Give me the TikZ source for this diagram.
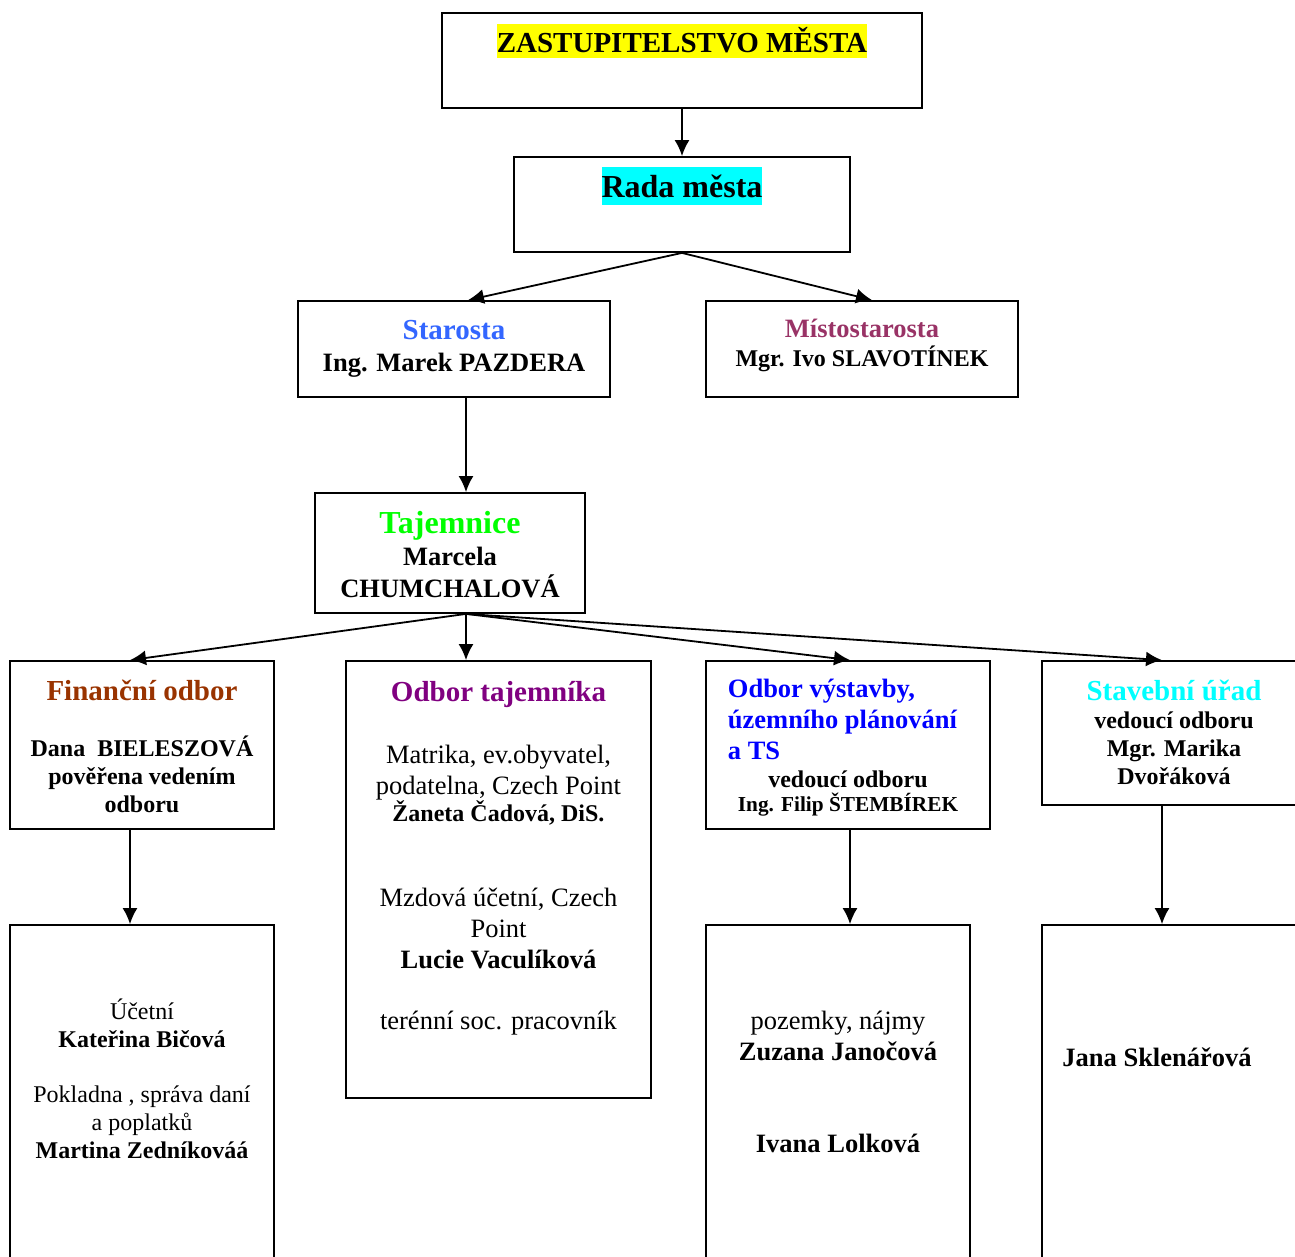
\documentclass[tikz,border=0pt]{standalone}
\usepackage{fontspec}
\setmainfont{Liberation Serif}
\usepackage{xcolor}
\usetikzlibrary{arrows.meta}
\definecolor{hlYellow}{HTML}{FFFF00}
\definecolor{hlCyan}{HTML}{00FFFF}
\definecolor{cStarosta}{HTML}{3366FF}
\definecolor{cMisto}{HTML}{993366}
\definecolor{cTaj}{HTML}{00FF00}
\definecolor{cFin}{HTML}{993300}
\definecolor{cOT}{HTML}{800080}
\definecolor{cOV}{HTML}{0000FF}
\definecolor{cSU}{HTML}{00FFFF}
\newcommand{\fBig}{\fontsize{32}{36}\selectfont\bfseries}
\newcommand{\fHead}{\fontsize{29}{33}\selectfont\bfseries}
\newcommand{\fMain}{\fontsize{26.5}{31}\selectfont}
\newcommand{\fSmall}{\fontsize{24}{28}\selectfont}
\newcommand{\fTiny}{\fontsize{21.3}{24}\selectfont}
\begin{document}
\begin{tikzpicture}[x=1pt,y=-1pt,line width=1.8pt,
  box/.style={draw,rectangle,inner sep=0pt},
  txt/.style={align=center,inner sep=0pt,anchor=base},
  hl/.style={inner sep=0pt,anchor=base},
  >={Latex[length=16pt,width=15pt]}]
  \useasboundingbox (0,0) rectangle (1295,1256);
  \clip (0,0) rectangle (1295,1256);

  % boxes
  \draw ( 682,  60.5) node[box,minimum width=480,minimum height=95](Z)   {};
  \draw ( 682, 204.5) node[box,minimum width=336,minimum height=95](Rada){};

  \draw ( 454, 349) node[box,minimum width=312,minimum height=96](Sta)  {};
  \draw ( 862, 349) node[box,minimum width=312,minimum height=96](Mist) {};

  \draw ( 450, 553) node[box,minimum width=270,minimum height=120](Taj) {};

  \draw ( 142,   745) node[box,minimum width=264,minimum height=168](Fin) {};
  \draw ( 498.5, 879.5) node[box,minimum width=305,minimum height=437](OT) {};
  \draw ( 848,   745) node[box,minimum width=284,minimum height=168](OV) {};
  \draw (1174,   733) node[box,minimum width=264,minimum height=144](SU) {};

  \draw ( 142, 1112.5) node[box,minimum width=264,minimum height=375](FinL) {};
  \draw ( 838, 1112.5) node[box,minimum width=264,minimum height=375](OVL) {};
  \draw (1174, 1112.5) node[box,minimum width=264,minimum height=375](SUL) {};

  % texts (base = last line)
  \draw ( 682, 52) node[hl,fill=hlYellow,text height=28pt,text depth=6pt](tZ)
    {\fHead ZASTUPITELSTVO MĚSTA};
  \draw ( 682,197) node[hl,fill=hlCyan,text height=30pt,text depth=8pt](tRada)
    {\fBig Rada města};

  \draw ( 454,371) node[txt,font=\fontsize{26.5}{32}\selectfont](tSta)
    {{\fHead\color{cStarosta}Starosta}\\{\fMain\bfseries Ing. Marek PAZDERA}};
  \draw ( 862,366) node[txt,font=\fontsize{24}{29}\selectfont](tMist)
    {{\fMain\bfseries\color{cMisto}Místostarosta}\\{\fSmall\bfseries Mgr. Ivo SLAVOTÍNEK}};

  \draw ( 450,597) node[txt,font=\fontsize{26.5}{32}\selectfont](tTaj)
    {{\fBig\color{cTaj}Tajemnice}\\{\fMain\bfseries Marcela}\\{\fMain\bfseries CHUMCHALOVÁ}};

  \draw ( 142,812) node[txt,font=\fontsize{24}{28}\selectfont](tFin)
    {{\fHead\color{cFin}Finanční odbor}\\[28pt]{\fSmall\bfseries Dana~~BIELESZOVÁ}\\
     {\fSmall\bfseries pověřena vedením}\\{\fSmall\bfseries odboru}};

  \draw ( 498.5,1029) node[txt,font=\fontsize{26.5}{31}\selectfont](tOT)
    {{\fHead\color{cOT}Odbor tajemníka}\\[31pt]{\fMain Matrika, ev.obyvatel,}\\
     {\fMain podatelna, Czech Point}\\[-4pt]{\fSmall\bfseries Žaneta Čadová, DiS.}\\[54pt]
     {\fMain Mzdová účetní, Czech}\\{\fMain Point}\\{\fMain\bfseries Lucie Vaculíková}\\[30pt]
     {\fMain terénní soc. pracovník}};

  \draw ( 727,759) node[txt,align=left,anchor=base west,font=\fontsize{26.5}{31}\selectfont](tOV)
    {{\fMain\bfseries\color{cOV}Odbor výstavby,}\\{\fMain\bfseries\color{cOV}územního plánování}\\
     {\fMain\bfseries\color{cOV}a TS}};
  \draw ( 848,811) node[txt,font=\fontsize{21.3}{24}\selectfont](tOVved)
    {{\fSmall\bfseries vedoucí odboru}\\{\fTiny\bfseries Ing. Filip ŠTEMBÍREK}};

  \draw (1174,784) node[txt,font=\fontsize{24}{28}\selectfont](tSU)
    {{\fHead\color{cSU}Stavební úřad}\\{\fSmall\bfseries vedoucí odboru}\\
     {\fSmall\bfseries Mgr. Marika}\\{\fSmall\bfseries Dvořáková}};

  \draw ( 142,1158) node[txt,font=\fontsize{24}{28}\selectfont](tFinL)
    {{\fSmall Účetní}\\{\fSmall\bfseries Kateřina Bičová}\\[27pt]
     {\fSmall Pokladna , správa daní}\\{\fSmall a poplatků}\\{\fSmall\bfseries Martina Zedníkováá}};

  \draw ( 838,1152) node[txt,font=\fontsize{26.5}{31}\selectfont](tOVL)
    {{\fMain pozemky, nájmy}\\{\fMain\bfseries Zuzana Janočová}\\[61pt]
     {\fMain\bfseries Ivana Lolková}};

  \draw (1157,1066) node[txt](tSUL) {\fMain\bfseries Jana Sklenářová};

  % connectors
  \draw[->] (Z.south) -- (Rada.north);
  \draw[->] (Rada.south) -- ([xshift=14pt]Sta.north);
  \draw[->] (Rada.south) -- ([xshift=10pt]Mist.north);
  \draw[->] ([xshift=12pt]Sta.south) -- ([xshift=16pt]Taj.north);

  \draw[->] ([xshift=16pt]Taj.south) -- ([xshift=-12pt]Fin.north);
  \draw[->] ([xshift=16pt]Taj.south) -- ([xshift=-32.5pt]OT.north);
  \draw[->] ([xshift=16pt]Taj.south) -- ([xshift=2pt]OV.north);
  \draw[->] ([xshift=16pt]Taj.south) -- ([xshift=-12pt]SU.north);

  \draw[->] ([xshift=-12pt]Fin.south) -- ([xshift=-12pt]FinL.north);
  \draw[->] ([xshift=2pt]OV.south)   -- ([xshift=12pt]OVL.north);
  \draw[->] ([xshift=-12pt]SU.south) -- ([xshift=-12pt]SUL.north);
\end{tikzpicture}
\end{document}
